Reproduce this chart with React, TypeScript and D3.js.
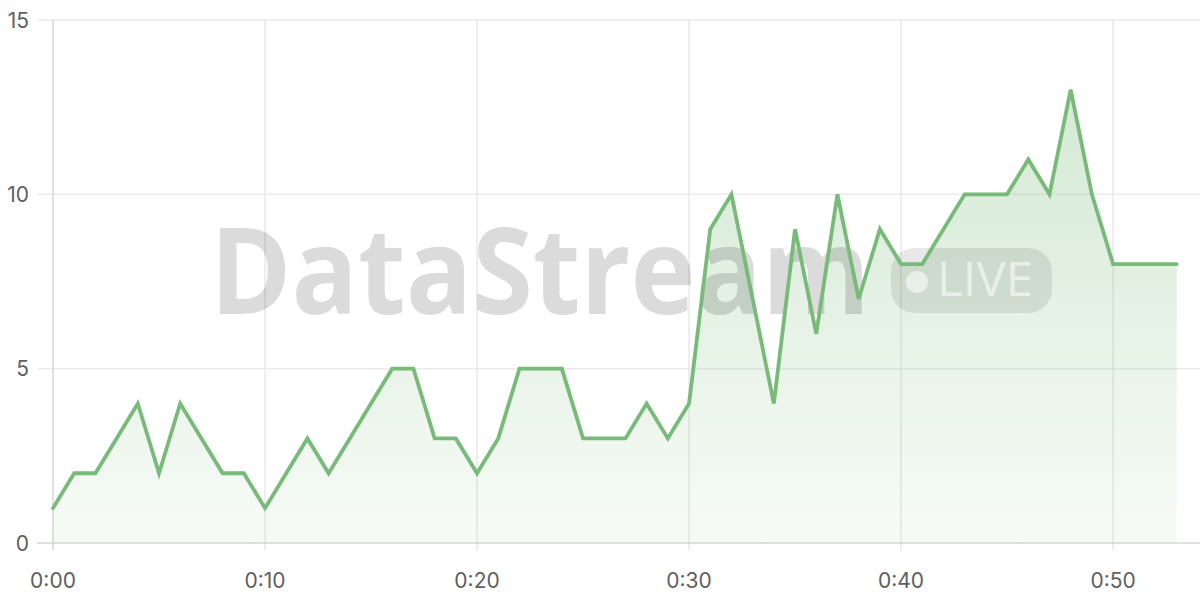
import React, { useEffect, useRef } from 'react';
import * as d3 from 'd3';

// one sample per second
const seconds = d3.range(0, 54);
const counts = [
  1, 2, 2, 3, 4, 2, 4, 3, 2, 2,
  1, 2, 3, 2, 3, 4, 5, 5, 3, 3,
  2, 3, 5, 5, 5, 3, 3, 3, 4, 3,
  4, 9, 10, 7, 4, 9, 6, 10, 7, 9,
  8, 8, 9, 10, 10, 10, 11, 10, 13, 10,
  8, 8, 8, 8,
];
const xTicks = [0, 10, 20, 30, 40, 50];
const yTicks = [0, 5, 10, 15];

const fmtTime = (s: number) => `${Math.floor(s / 60)}:${String(s % 60).padStart(2, '0')}`;

const App: React.FC = () => {
  const svgRef = useRef<SVGSVGElement>(null);

  useEffect(() => {
    if (!svgRef.current) return;
    const width = 1200;
    const height = 600;
    const margin = { top: 20, right: 0, bottom: 57, left: 53 };

    const svg = d3.select(svgRef.current);
    svg.selectAll('*').remove();

    const x = d3.scaleLinear().domain([0, 54.1]).range([margin.left, width - margin.right]);
    const y = d3.scaleLinear().domain([0, 15]).range([height - margin.bottom, margin.top]);

    const green = '#78ba79';
    const font = "Inter, 'Noto Sans', sans-serif";

    const defs = svg.append('defs');
    const grad = defs.append('linearGradient')
      .attr('id', 'area-grad')
      .attr('x1', 0).attr('y1', 0).attr('x2', 0).attr('y2', 1);
    grad.append('stop').attr('offset', '0%').attr('stop-color', green).attr('stop-opacity', 0.32);
    grad.append('stop').attr('offset', '100%').attr('stop-color', green).attr('stop-opacity', 0.06);

    // grid
    svg.append('g')
      .selectAll('line')
      .data(yTicks.filter(t => t > 0))
      .join('line')
      .attr('x1', margin.left - 16).attr('x2', width)
      .attr('y1', d => y(d)).attr('y2', d => y(d))
      .attr('stroke', '#ebebeb').attr('stroke-width', 1.5);

    svg.append('g')
      .selectAll('line')
      .data(xTicks.filter(t => t > 0))
      .join('line')
      .attr('x1', d => x(d)).attr('x2', d => x(d))
      .attr('y1', y(15)).attr('y2', y(0) + 7)
      .attr('stroke', '#e8e8e8').attr('stroke-width', 1.5);

    // axes lines
    svg.append('line')
      .attr('x1', margin.left - 16).attr('x2', width)
      .attr('y1', y(0)).attr('y2', y(0))
      .attr('stroke', '#d6d6d6').attr('stroke-width', 1.5);
    svg.append('line')
      .attr('x1', x(0)).attr('x2', x(0))
      .attr('y1', y(15)).attr('y2', y(0) + 7)
      .attr('stroke', '#d6d6d6').attr('stroke-width', 1.5);

    // tick labels
    svg.append('g')
      .selectAll('text')
      .data(yTicks)
      .join('text')
      .attr('x', 29)
      .attr('y', d => y(d))
      .attr('dy', '0.36em')
      .attr('text-anchor', 'end')
      .style('font-family', font)
      .style('font-size', '21px')
      .style('fill', '#606060')
      .text(d => d);

    svg.append('g')
      .selectAll('text')
      .data(xTicks)
      .join('text')
      .attr('x', d => x(d))
      .attr('y', 588)
      .attr('text-anchor', 'middle')
      .style('font-family', font)
      .style('font-size', '21px')
      .style('fill', '#606060')
      .text(d => fmtTime(d));

    const pts = seconds.map((s, i) => [s, counts[i]] as [number, number]);

    const area = d3.area<[number, number]>()
      .x(d => x(d[0]))
      .y0(y(0))
      .y1(d => y(d[1]));

    svg.append('path')
      .datum(pts)
      .attr('d', area)
      .attr('fill', 'url(#area-grad)');

    // watermark
    const wm = svg.append('g').style('pointer-events', 'none');
    wm.append('text')
      .attr('x', 210)
      .attr('y', 314)
      .attr('textLength', 660)
      .attr('lengthAdjust', 'spacingAndGlyphs')
      .style('font-family', "'Open Sans', 'Noto Sans', sans-serif")
      .style('font-weight', 700)
      .style('font-size', '120px')
      .style('fill', 'rgba(0,0,0,0.14)')
      .text('DataStream');
    wm.append('rect')
      .attr('x', 891).attr('y', 248)
      .attr('width', 161).attr('height', 65)
      .attr('rx', 24)
      .attr('fill', 'rgba(0,0,0,0.09)');
    wm.append('circle')
      .attr('cx', 917).attr('cy', 282).attr('r', 11)
      .attr('fill', 'rgba(255,255,255,0.55)');
    wm.append('text')
      .attr('x', 937)
      .attr('y', 296)
      .attr('textLength', 96)
      .attr('lengthAdjust', 'spacingAndGlyphs')
      .style('font-family', "'Open Sans', 'Noto Sans', sans-serif")
      .style('font-weight', 500)
      .style('font-size', '47px')
      .style('fill', 'rgba(255,255,255,0.55)')
      .text('LIVE');

    const line = d3.line<[number, number]>()
      .x(d => x(d[0]))
      .y(d => y(d[1]));

    svg.append('path')
      .datum(pts)
      .attr('d', line)
      .attr('fill', 'none')
      .attr('stroke', green)
      .attr('stroke-width', 3.8)
      .attr('stroke-linejoin', 'miter')
      .attr('stroke-linecap', 'round');
  }, []);

  return (
    <svg
      ref={svgRef}
      width={1200}
      height={600}
      style={{ position: 'absolute', left: 0, top: 0, background: '#fff', display: 'block' }}
    />
  );
};

export default App;
